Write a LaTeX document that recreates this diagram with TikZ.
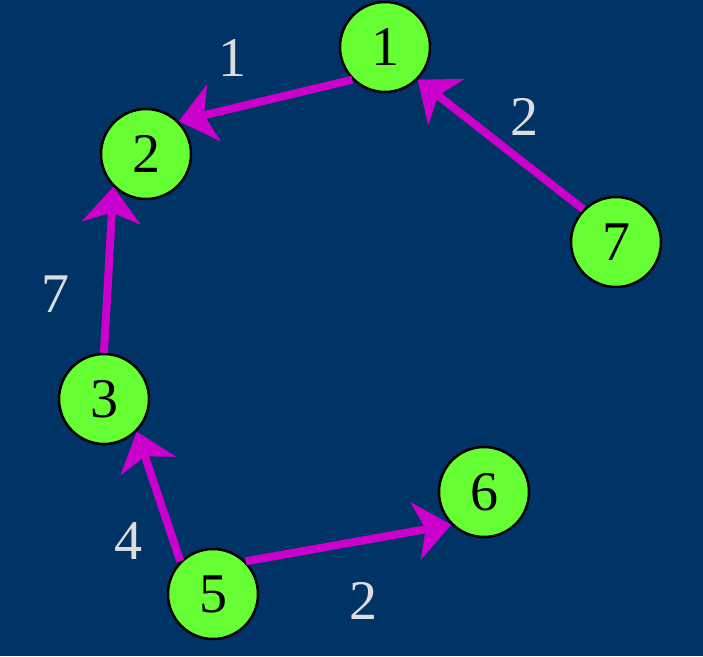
\documentclass[tikz,border=0pt]{standalone}
\usepackage{fontspec}
\setmainfont{Liberation Serif}
\newfontfamily\numfont{Liberation Serif}
\usetikzlibrary{arrows.meta}
\definecolor{bgblue}{HTML}{003366}
\definecolor{nodegreen}{HTML}{66FF33}
\definecolor{arcpink}{HTML}{CC00CC}
\definecolor{wgray}{HTML}{DDDDDD}
\begin{document}
\begin{tikzpicture}[x=1pt, y=-1pt,
    main node/.style={circle,draw=black,line width=2.5pt,fill=nodegreen,inner sep=0pt,minimum size=90pt,font=\numfont\fontsize{56}{60}\selectfont},
    weight/.style={text=wgray,anchor=base,inner sep=0pt,font=\numfont\fontsize{56}{60}\selectfont},
    arc/.style={draw=arcpink,line width=8pt,-{Stealth[length=36pt,width=58pt,inset=10pt]}}]
                \fill[bgblue] (0,0) rectangle (703,656);
                \useasboundingbox (0,0) rectangle (703,656);

                \node[main node] at (385, 47) (1) {1};
                \node[main node] at (146, 154) (2) {2};
                \node[main node] at (104, 399) (3) {3};
                \node[main node] at (213, 594) (5) {5};
                \node[main node] at (484, 492) (6) {6};
                \node[main node] at (616, 242) (7) {7};

            \path[arc] (1.225) -- (2.45);
            \path[arc] (7.135) -- (1.315);
            \path[arc] (3.90) -- (2.225);
            \path[arc] (5.135) -- (3.315);
            \path[arc] (5.45) -- (6.225);

                \node[weight] at (232, 76) (w12) {1};
                \node[weight] at (524, 135) (w71) {2};
                \node[weight] at (55, 312) (w32) {7};
                \node[weight] at (128, 559) (w53) {4};
                \node[weight] at (363, 619) (w56) {2};

            \end{tikzpicture}
\end{document}
